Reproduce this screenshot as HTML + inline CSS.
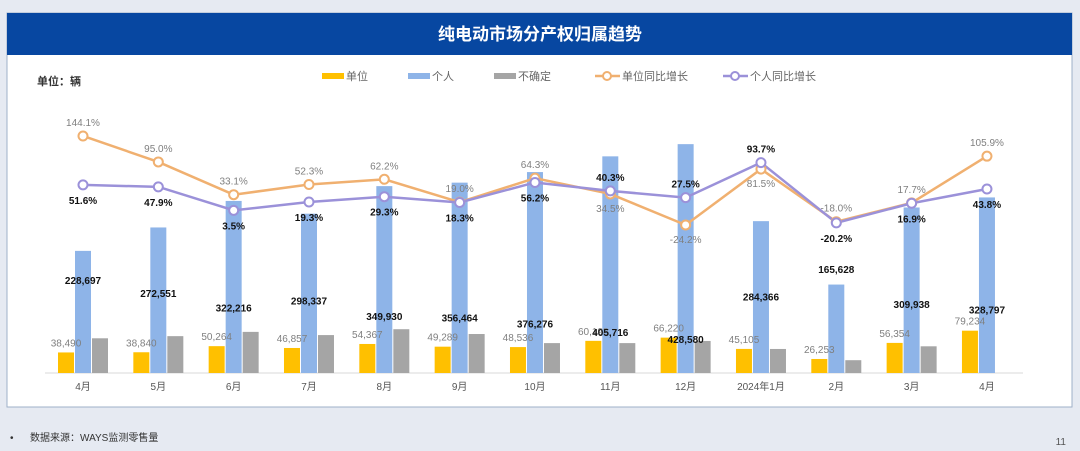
<!DOCTYPE html>
<html><head><meta charset="utf-8">
<style>
html,body{margin:0;padding:0;width:1080px;height:451px;overflow:hidden;background:#e6eaf2;font-family:"Liberation Sans","Noto Sans CJK SC",sans-serif;}
svg{position:absolute;left:0;top:0;}
</style></head>
<body>
<svg id="chart" width="1080" height="451">
  <rect x="7" y="13" width="1065" height="394" fill="#ffffff" stroke="#9fb0c8" stroke-width="1"/>
  <rect x="7" y="13" width="1065" height="42" fill="#0747a1"/>
  <text x="540" y="40" text-anchor="middle" fill="#fff" font-size="17" font-weight="bold">纯电动市场分产权归属趋势</text>
  <text x="37" y="85" fill="#333" font-size="11" font-weight="bold">单位：辆</text>
  <g font-size="11" fill="#666">
    <g><rect x="322" y="73" width="22" height="6" fill="#ffc000"/><text x="346" y="80">单位</text></g>
    <g><rect x="408" y="73" width="22" height="6" fill="#8eb4e8"/><text x="432" y="80">个人</text></g>
    <g><rect x="494" y="73" width="22" height="6" fill="#a5a5a5"/><text x="518" y="80">不确定</text></g>
    <g><line x1="595" y1="76" x2="620" y2="76" stroke="#f0b070" stroke-width="2.5"/><circle cx="607" cy="76" r="4" fill="#fff" stroke="#f0b070" stroke-width="2"/><text x="622" y="80">单位同比增长</text></g>
    <g><line x1="723" y1="76" x2="748" y2="76" stroke="#9b91d9" stroke-width="2.5"/><circle cx="735" cy="76" r="4" fill="#fff" stroke="#9b91d9" stroke-width="2"/><text x="750" y="80">个人同比增长</text></g>
  </g>
  <line x1="45" y1="373" x2="1023" y2="373" stroke="#d9d9d9" stroke-width="1"/>
  <g id="marks"></g>
  <text x="10" y="441" fill="#333" font-size="10">•</text>
  <text x="30" y="441" fill="#333" font-size="10">数据来源：WAYS监测零售量</text>
  <text x="1066" y="445" text-anchor="end" fill="#555" font-size="10">11</text>
</svg>
<script>
const categories = ["4月","5月","6月","7月","8月","9月","10月","11月","12月","2024年1月","2月","3月","4月"];
const unitValues = [38490,38840,50264,46857,54367,49289,48536,60198,66220,45105,26253,56354,79234];
const personalValues = [228697,272551,322216,298337,349930,356464,376276,405716,428580,284366,165628,309938,328797];
const uncertainValues = [65000,69000,77000,71000,82000,73000,56000,56000,60000,45000,24000,50000,0];
const unitYoY = [144.1,95.0,33.1,52.3,62.2,19.0,64.3,34.5,-24.2,81.5,-18.0,17.7,105.9];
const personalYoY = [51.6,47.9,3.5,19.3,29.3,18.3,56.2,40.3,27.5,93.7,-20.2,16.9,43.8];
const unitLabelBelow = [0,0,0,0,0,0,0,1,1,1,0,0,0];
const personalLabelAbove = [0,0,0,0,0,0,0,1,1,1,0,0,0];

const NS="http://www.w3.org/2000/svg";
const g=document.getElementById('marks');
const base=373;
function xCenter(i){return 83+i*75.33;}
function yBar(v){return base - v*0.000534;}
function yPct(p){return 212.2 - p*0.529;}
function mk(tag,attrs,parent){const e=document.createElementNS(NS,tag);for(const k in attrs)e.setAttribute(k,attrs[k]);(parent||g).appendChild(e);return e;}
function fmt(v){return v.toLocaleString('en-US');}

categories.forEach((c,i)=>{
  const cx=xCenter(i);
  const specs=[[unitValues[i],cx-25,'#ffc000','bar-unit'],[personalValues[i],cx-8,'#8eb4e8','bar-personal'],[uncertainValues[i],cx+9,'#a5a5a5','bar-uncertain']];
  specs.forEach(s=>{
    const y=yBar(s[0]);
    const r=mk('rect',{x:s[1],y:y,width:16,height:Math.max(0,base-y),fill:s[2]});
    
    
  });
  const t=mk('text',{x:cx,y:390,'text-anchor':'middle','font-size':10,fill:'#555'});
  t.textContent=c;
  
  
  const ul=mk('text',{x:cx-17,y:yBar(unitValues[i])-6,'text-anchor':'middle','font-size':10,fill:'#7f7f7f'});
  ul.textContent=fmt(unitValues[i]);
  
  
  const pv=personalValues[i];
  const d=Math.max(30,Math.min(100,89-(pv-228697)*0.000295));
  const pl=mk('text',{x:cx,y:base-d,'text-anchor':'middle','font-size':10,'font-weight':'bold',fill:'#111'});
  pl.textContent=fmt(pv);
  
  
});

function line(vals,color,name){
  const pts=vals.map((v,i)=>xCenter(i)+','+yPct(v)).join(' ');
  const p=mk('polyline',{points:pts,fill:'none',stroke:color,'stroke-width':2.5});
  
  
}
line(unitYoY,'#f0b070','line-unit-yoy');
line(personalYoY,'#9b91d9','line-personal-yoy');
unitYoY.forEach((v,i)=>{
  const c=mk('circle',{cx:xCenter(i),cy:yPct(v),r:4.5,fill:'#fff',stroke:'#f0b070','stroke-width':2});
  
  
  const t=mk('text',{x:xCenter(i),y:unitLabelBelow[i]?yPct(v)+18:yPct(v)-10,'text-anchor':'middle','font-size':10,fill:'#7f7f7f'});
  t.textContent=v.toFixed(1)+'%';
  
  
});
personalYoY.forEach((v,i)=>{
  const c=mk('circle',{cx:xCenter(i),cy:yPct(v),r:4.5,fill:'#fff',stroke:'#9b91d9','stroke-width':2});
  
  
  const t=mk('text',{x:xCenter(i),y:personalLabelAbove[i]?yPct(v)-10:yPct(v)+19,'text-anchor':'middle','font-size':10,'font-weight':'bold',fill:'#111'});
  t.textContent=v.toFixed(1)+'%';
  
  
});
</script>
</body></html>
